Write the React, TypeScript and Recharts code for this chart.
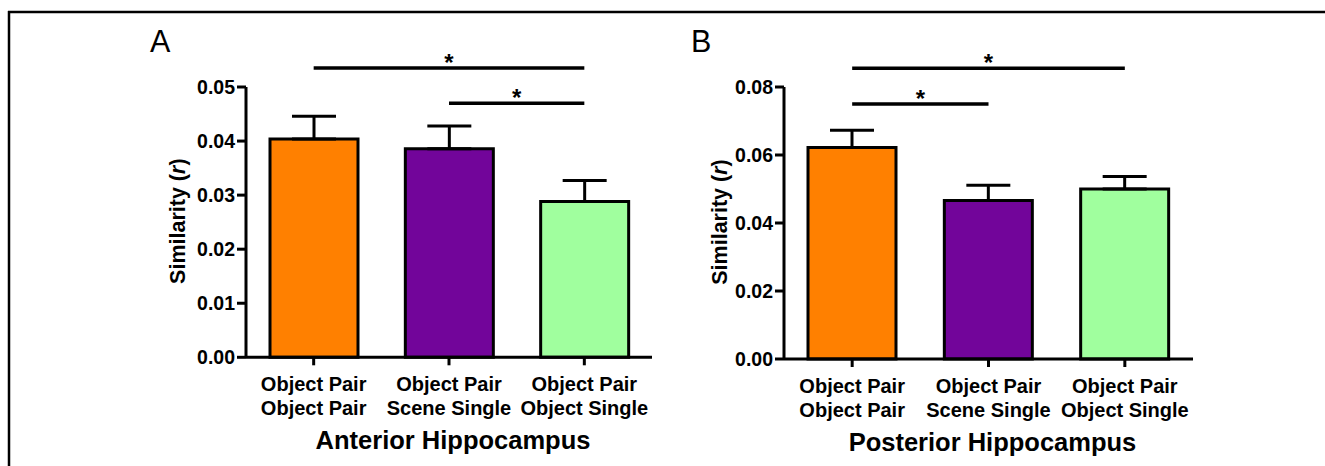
import React from "react";
import { BarChart, Bar, XAxis, YAxis, Cell, ErrorBar, ReferenceLine } from "recharts";

const categories = [
  "Object Pair\nObject Pair",
  "Object Pair\nScene Single",
  "Object Pair\nObject Single",
];
const colors = ["#ff8000", "#72059a", "#a0ff9e"];

const anteriorMean = [0.0404, 0.0386, 0.0288];
const anteriorSem = [0.0042, 0.0042, 0.0039];
const anteriorTicks = [0, 0.01, 0.02, 0.03, 0.04, 0.05];
// [from, to, height]
const anteriorSig = [
  [0, 2, 0.0535],
  [1, 2, 0.047],
];

const posteriorMean = [0.0622, 0.0466, 0.05];
const posteriorSem = [0.0051, 0.0045, 0.0037];
const posteriorTicks = [0, 0.02, 0.04, 0.06, 0.08];
const posteriorSig = [
  [0, 2, 0.0855],
  [0, 1, 0.075],
];

const FONT = '"Liberation Sans", Arial, sans-serif';

const XTick = (props: any) => {
  const { x, y, payload } = props;
  const [l1, l2] = String(payload.value).split("\n");
  return (
    <g>
      <text x={x} y={y + 26} textAnchor="middle" fontSize={20} fontWeight={700} fill="#000">
        {l1}
      </text>
      <text x={x} y={y + 49.5} textAnchor="middle" fontSize={20} fontWeight={700} fill="#000">
        {l2}
      </text>
    </g>
  );
};

const XTitle = (props: any) => {
  const { viewBox, text } = props;
  return (
    <text
      x={viewBox.x + viewBox.width / 2 + 4}
      y={viewBox.y + 92}
      textAnchor="middle"
      fontSize={25.5}
      fontWeight={700}
      fill="#000"
    >
      {text}
    </text>
  );
};

const YTitle = (props: any) => {
  const { viewBox, gap } = props;
  const x = viewBox.x + viewBox.width - gap;
  const y = viewBox.y + viewBox.height / 2 - 1;
  return (
    <text
      x={x}
      y={y}
      transform={`rotate(-90 ${x} ${y})`}
      textAnchor="middle"
      fontSize={21.5}
      fontWeight={700}
      fill="#000"
    >
      Similarity (<tspan fontStyle="italic">r</tspan>)
    </text>
  );
};

const Star = (props: any) => {
  const { viewBox } = props;
  return (
    <text
      x={viewBox.x + viewBox.width / 2}
      y={viewBox.y + 2.5}
      textAnchor="middle"
      fontSize={24}
      fontWeight={700}
      fill="#000"
    >
      *
    </text>
  );
};

type PanelProps = {
  left: number;
  width: number;
  mean: number[];
  sem: number[];
  ticks: number[];
  sig: number[][];
  title: string;
  marginLeft: number;
  marginRight: number;
  marginBottom: number;
  labelGap: number;
};

const Panel = ({ left, width, mean, sem, ticks, sig, title, marginLeft, marginRight, marginBottom, labelGap }: PanelProps) => {
  const data = categories.map((c, i) => ({ name: c, value: mean[i], err: [0, sem[i]] }));
  const axisStyle = { stroke: "#000", strokeWidth: 3 };
  return (
    <div style={{ position: "absolute", left, top: 0 }}>
      <BarChart
        width={width}
        height={466}
        data={data}
        margin={{ top: 87, right: marginRight, left: marginLeft, bottom: marginBottom }}
      >
        <XAxis
          dataKey="name"
          height={100}
          interval={0}
          tick={<XTick />}
          tickSize={8}
          tickMargin={0}
          axisLine={axisStyle}
          tickLine={axisStyle}
          label={<XTitle text={title} />}
        />
        <YAxis
          width={86}
          domain={[0, ticks[ticks.length - 1]]}
          ticks={ticks}
          interval={0}
          tickFormatter={(v: number) => v.toFixed(2)}
          tick={{ fill: "#000", fontSize: 19.5, fontWeight: 700 }}
          tickSize={9}
          tickMargin={2}
          axisLine={axisStyle}
          tickLine={axisStyle}
          label={<YTitle gap={labelGap} />}
        />
        <Bar dataKey="value" barSize={88} stroke="#000" strokeWidth={3} isAnimationActive={false}>
          {data.map((d, i) => (
            <Cell key={d.name} fill={colors[i]} />
          ))}
          <ErrorBar dataKey="err" direction="y" width={22} stroke="#000" strokeWidth={3} isAnimationActive={false} />
        </Bar>
        {sig.map(([a, b, h], i) => (
          <ReferenceLine
            key={i}
            segment={[
              { x: categories[a], y: h },
              { x: categories[b], y: h },
            ]}
            stroke="#000"
            strokeWidth={3.5}
            ifOverflow="visible"
            label={<Star />}
          />
        ))}
      </BarChart>
    </div>
  );
};

export default function App() {
  return (
    <div
      style={{
        position: "absolute",
        left: 0,
        top: 0,
        width: 1325,
        height: 466,
        background: "#fff",
        overflow: "hidden",
        fontFamily: FONT,
      }}
    >
      <svg width={1325} height={466} style={{ position: "absolute", left: 0, top: 0 }}>
        <line x1={8} y1={12} x2={1325} y2={12} stroke="#000" strokeWidth={2.5} />
        <line x1={9} y1={11} x2={9} y2={466} stroke="#000" strokeWidth={2.5} />
        <text x={150} y={52} fontSize={30.5} fill="#000" fontFamily={FONT}>
          A
        </text>
        <text x={691} y={52} fontSize={30.5} fill="#000" fontFamily={FONT}>
          B
        </text>
      </svg>
      <Panel
        left={0}
        width={680}
        mean={anteriorMean}
        sem={anteriorSem}
        ticks={anteriorTicks}
        sig={anteriorSig}
        title="Anterior Hippocampus"
        marginLeft={160}
        marginRight={28}
        marginBottom={8.7}
        labelGap={61}
      />
      <Panel
        left={680}
        width={540}
        mean={posteriorMean}
        sem={posteriorSem}
        ticks={posteriorTicks}
        sig={posteriorSig}
        title="Posterior Hippocampus"
        marginLeft={18}
        marginRight={27}
        marginBottom={7}
        labelGap={57}
      />
    </div>
  );
}
